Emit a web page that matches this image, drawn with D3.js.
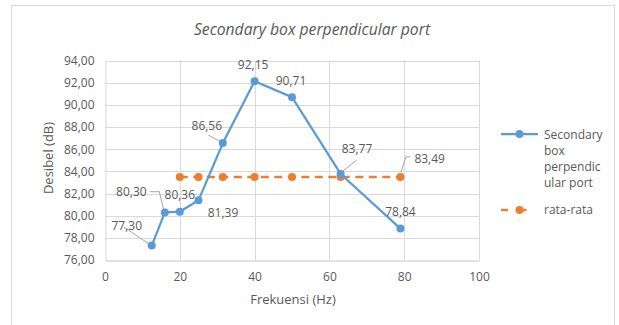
<!DOCTYPE html>
<html>
<head>
<meta charset="utf-8">
<script src="https://cdn.jsdelivr.net/npm/d3@7"></script>
<style>
  html, body { margin: 0; padding: 0; background: #fff; }
  svg { display: block; }
  text { font-family: "Open Sans", "Liberation Sans", sans-serif; fill: #595959; }
</style>
</head>
<body>
<svg id="chart" width="619" height="325"></svg>
<script>
// Frequencies (Hz) and measured sound level (dB)
const frequencies = [12.5, 16, 20, 25, 31.5, 40, 50, 63, 79];
const levels = [77.30, 80.30, 80.36, 81.39, 86.56, 92.15, 90.71, 83.77, 78.84];

// Average ("rata-rata") series
const avgFrequencies = [20, 25, 31.5, 40, 50, 63, 79];
const avgLevels = [83.49, 83.49, 83.49, 83.49, 83.49, 83.49, 83.49];

const xTicks = [0, 20, 40, 60, 80, 100];
const yTicks = [76, 78, 80, 82, 84, 86, 88, 90, 92, 94];

const titleText = "Secondary box perpendicular port";
const xTitle = "Frekuensi (Hz)";
const yTitle = "Desibel (dB)";
const seriesName = ["Secondary", "box", "perpendic", "ular port"];
const avgName = "rata-rata";

// Label placement (pixel offsets from each point), index-aligned with levels
const labelOffsets = [[-25, -20.5], [-33.5, -20.5], [0, -17.5], [24.5, 12.7], [-16, -17],
                      [-1.5, -16.7], [-1, -16.6], [16.4, -25], [0, -17]];
// Leader lines for some labels: [index, points relative to the mark]
const leaders = [
  [0, [[-28, -18.6], [-2.5, -1.5]]],
  [1, [[-14.8, -20.7], [-5.5, -20.7], [-1.3, -3]]],
  [4, [[-14.5, -8.1], [-1.5, -0.9]]],
  [7, [[16.1, -13.9], [0.5, -1.5]]]
];
const avgLabelOffset = [29.2, -18.3];
const avgLeader = [[9.5, -20.3], [5.5, -20.3], [0.6, -5]];

const blue = "#5b9bd5", orange = "#ed7d31", grid = "#d9d9d9", leaderCol = "#a6a6a6";

const locale = d3.formatLocale({decimal: ",", thousands: ".", grouping: [3], currency: ["", ""]});
const fmt2 = locale.format(".2f");

const svg = d3.select("#chart");

// Chart frame
svg.append("rect")
  .attr("x", 11.5).attr("y", 5.5).attr("width", 603).attr("height", 340)
  .attr("fill", "#fff").attr("stroke", grid).attr("stroke-width", 1);

const plot = {left: 105, right: 479, top: 60.7, bottom: 260};
const x = d3.scaleLinear().domain([0, 100]).range([plot.left, plot.right]);
const y = d3.scaleLinear().domain([76, 94]).range([plot.bottom, plot.top]);

// Title
svg.append("text")
  .attr("x", 312).attr("y", 35)
  .attr("text-anchor", "middle")
  .style("font-size", "15.7px").style("font-style", "italic")
  .text(titleText);

// Gridlines
const g = svg.append("g");
g.selectAll("line.h").data(yTicks.slice(1)).join("line")
  .attr("x1", plot.left).attr("x2", plot.right)
  .attr("y1", d => Math.round(y(d)) + 0.5).attr("y2", d => Math.round(y(d)) + 0.5)
  .attr("stroke", grid).attr("stroke-width", 1);
g.selectAll("line.v").data(xTicks.slice(1)).join("line")
  .attr("y1", plot.top).attr("y2", plot.bottom)
  .attr("x1", d => Math.round(x(d)) + 0.5).attr("x2", d => Math.round(x(d)) + 0.5)
  .attr("stroke", grid).attr("stroke-width", 1);

// Axes
const xAxis = svg.append("g")
  .attr("transform", `translate(0,${Math.round(plot.bottom) + 0.5})`)
  .call(d3.axisBottom(x).tickValues(xTicks).tickSize(0).tickPadding(12).tickFormat(d3.format("d")));
xAxis.select(".domain").attr("stroke", grid).attr("stroke-width", 1.3);
xAxis.selectAll("text").style("font-size", "12px").style("fill", "#595959").style("font-family", "'Open Sans', sans-serif");

const yAxis = svg.append("g")
  .attr("transform", `translate(${Math.round(plot.left) + 0.5},0)`)
  .call(d3.axisLeft(y).tickValues(yTicks).tickSize(0).tickPadding(11).tickFormat(fmt2));
yAxis.select(".domain").attr("stroke", grid).attr("stroke-width", 1);
yAxis.selectAll("text").style("font-size", "12px").style("fill", "#595959").style("font-family", "'Open Sans', sans-serif");

// Axis titles
svg.append("text")
  .attr("x", 293).attr("y", 304)
  .attr("text-anchor", "middle").style("font-size", "13px")
  .text(xTitle);
svg.append("text")
  .attr("transform", "translate(53,158) rotate(-90)")
  .attr("text-anchor", "middle").style("font-size", "13px")
  .text(yTitle);

// Leader lines
const lineGen = d3.line();
leaders.forEach(([i, pts]) => {
  const px = x(frequencies[i]), py = y(levels[i]);
  svg.append("path")
    .attr("d", lineGen(pts.map(p => [px + p[0], py + p[1]])))
    .attr("fill", "none").attr("stroke", leaderCol).attr("stroke-width", 1);
});
{
  const last = avgFrequencies.length - 1;
  const px = x(avgFrequencies[last]), py = y(avgLevels[last]);
  svg.append("path")
    .attr("d", lineGen(avgLeader.map(p => [px + p[0], py + p[1]])))
    .attr("fill", "none").attr("stroke", leaderCol).attr("stroke-width", 1);
}

// Average series (dashed)
const avgData = avgFrequencies.map((f, i) => [f, avgLevels[i]]);
svg.append("path")
  .datum(avgData)
  .attr("d", d3.line().x(d => x(d[0])).y(d => y(d[1])))
  .attr("fill", "none").attr("stroke", orange).attr("stroke-width", 2.5)
  .attr("stroke-dasharray", "8,5.5");
svg.selectAll("circle.avg").data(avgData).join("circle")
  .attr("class", "avg")
  .attr("cx", d => x(d[0])).attr("cy", d => y(d[1])).attr("r", 4)
  .attr("fill", orange);

// Measured series
const data = frequencies.map((f, i) => [f, levels[i]]);
svg.append("path")
  .datum(data)
  .attr("d", d3.line().x(d => x(d[0])).y(d => y(d[1])))
  .attr("fill", "none").attr("stroke", blue).attr("stroke-width", 2.25)
  .attr("stroke-linejoin", "round");
svg.selectAll("circle.main").data(data).join("circle")
  .attr("class", "main")
  .attr("cx", d => x(d[0])).attr("cy", d => y(d[1])).attr("r", 4)
  .attr("fill", blue);

// Data labels
svg.selectAll("text.lbl").data(data).join("text")
  .attr("class", "lbl")
  .attr("x", (d, i) => x(d[0]) + labelOffsets[i][0])
  .attr("y", (d, i) => y(d[1]) + labelOffsets[i][1] + 4.4)
  .attr("text-anchor", "middle").style("font-size", "12px")
  .text(d => fmt2(d[1]));
{
  const last = avgFrequencies.length - 1;
  svg.append("text")
    .attr("x", x(avgFrequencies[last]) + avgLabelOffset[0])
    .attr("y", y(avgLevels[last]) + avgLabelOffset[1] + 4.4)
    .attr("text-anchor", "middle").style("font-size", "12px")
    .text(fmt2(avgLevels[last]));
}

// Legend
const lg = svg.append("g");
lg.append("line").attr("x1", 501).attr("x2", 538).attr("y1", 134).attr("y2", 134)
  .attr("stroke", blue).attr("stroke-width", 2.25);
lg.append("circle").attr("cx", 519.5).attr("cy", 134).attr("r", 4).attr("fill", blue);
lg.selectAll("text.s").data(seriesName).join("text")
  .attr("class", "s")
  .attr("x", 544).attr("y", (d, i) => 139 + i * 15.9)
  .style("font-size", "12px")
  .text(d => d);
lg.append("line").attr("x1", 501).attr("x2", 538).attr("y1", 210).attr("y2", 210)
  .attr("stroke", orange).attr("stroke-width", 2.5).attr("stroke-dasharray", "7,11.5");
lg.append("circle").attr("cx", 519.5).attr("cy", 210).attr("r", 4).attr("fill", orange);
lg.append("text").attr("x", 544).attr("y", 214.4).style("font-size", "12px").text(avgName);
</script>
</body>
</html>
